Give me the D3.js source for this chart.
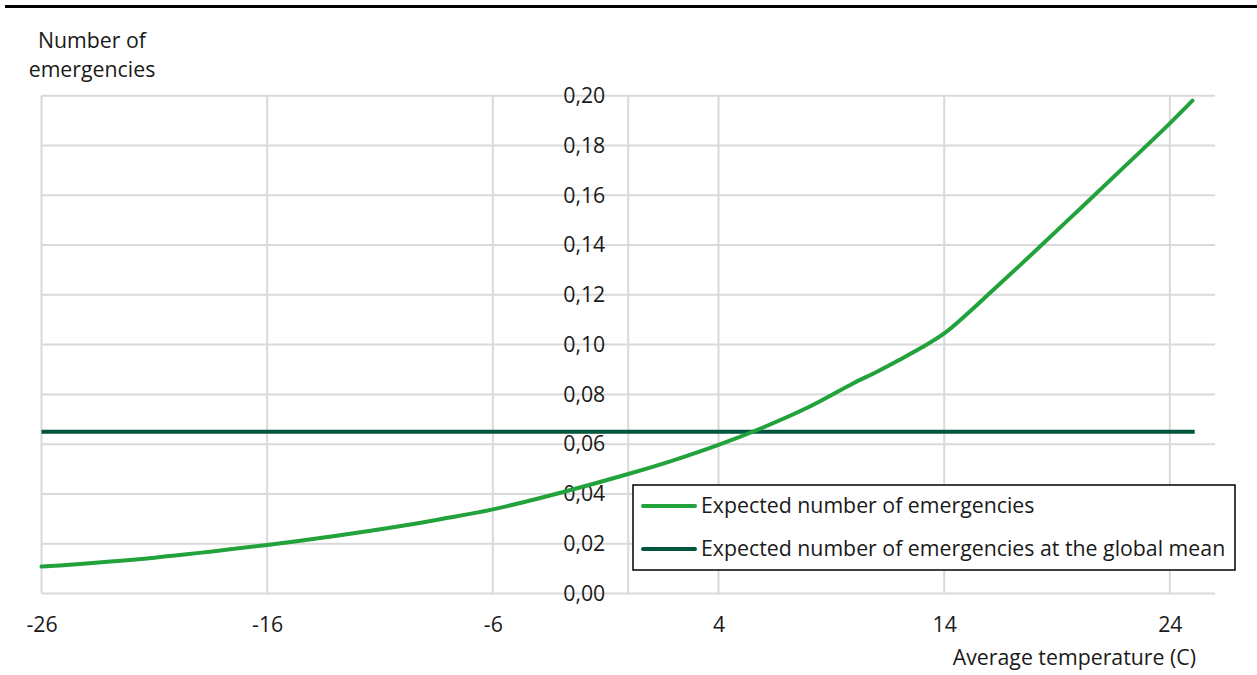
<!DOCTYPE html>
<html>
<head>
<meta charset="utf-8">
<script src="https://cdn.jsdelivr.net/npm/d3@7"></script>
<style>
  html, body { margin: 0; padding: 0; background: #fff; }
  svg text { font-family: "Open Sans", "Noto Sans", sans-serif; fill: #1a1a1a; }
</style>
</head>
<body>
<svg id="chart" width="1257" height="675"></svg>
<script>
// ---- data ----
const temperatures = [-26, -21, -16, -13, -10, -8, -6, -3, 0, 2, 4, 6, 8, 10, 11, 12, 13, 14, 15, 16, 18, 20, 22, 24, 25];
const expectedEmergencies = [0.0108, 0.0144, 0.0195, 0.0231, 0.0272, 0.0304, 0.0338, 0.0405, 0.0480, 0.0535, 0.0597, 0.0668, 0.0749, 0.0846, 0.0890, 0.0938, 0.0988, 0.1045, 0.1122, 0.1205, 0.1373, 0.1544, 0.1716, 0.1889, 0.1980];
const globalMeanValue = 0.065;
const globalMeanRange = [-26, 25.1];
const xTicks = [-26, -16, -6, 4, 14, 24];
const yTicks = [0, 0.02, 0.04, 0.06, 0.08, 0.10, 0.12, 0.14, 0.16, 0.18, 0.20];
const seriesNames = ["Expected number of emergencies", "Expected number of emergencies at the global mean"];
const seriesColors = ["#22a23b", "#00553f"];
const yTitle = ["Number of", "emergencies"];
const xTitle = "Average temperature (C)";

// ---- layout ----
const FS = 21.3;
const svg = d3.select("#chart");
const x = d3.scaleLinear().domain([-26, 26]).range([41.5, 1215]);
const y = d3.scaleLinear().domain([0, 0.2]).range([593.5, 95.7]);
const fmt = v => d3.format(".2f")(v).replace(".", ",");

// top rule
svg.append("rect").attr("x", 5).attr("y", 5).attr("width", 1252).attr("height", 3).attr("fill", "#000");

// gridlines
const grid = svg.append("g").attr("stroke", "#d9d9d9").attr("stroke-width", 2);
grid.selectAll("line.h").data(yTicks).join("line")
  .attr("x1", x(-26)).attr("x2", x(26))
  .attr("y1", d => y(d)).attr("y2", d => y(d));
grid.selectAll("line.v").data(xTicks.concat([0])).join("line")
  .attr("x1", d => x(d)).attr("x2", d => x(d))
  .attr("y1", y(0.2)).attr("y2", y(0));

// y axis (at x = 0)
const yAxis = d3.axisLeft(y).tickValues(yTicks).tickFormat(fmt).tickSize(0).tickPadding(23);
const yg = svg.append("g").attr("transform", `translate(${x(0)},0)`).call(yAxis);
yg.select(".domain").remove();
yg.selectAll("text").attr("font-size", FS).style("font-family", '"Open Sans", sans-serif').attr("fill", "#1a1a1a");

// x axis
const xAxis = d3.axisBottom(x).tickValues(xTicks).tickFormat(d => d).tickSize(0).tickPadding(23);
const xg = svg.append("g").attr("transform", `translate(0,${y(0)})`).call(xAxis);
xg.select(".domain").remove();
xg.selectAll("text").attr("font-size", FS).style("font-family", '"Open Sans", sans-serif').attr("fill", "#1a1a1a");

// lines
const flat = d3.line().x(d => x(d[0])).y(d => y(d[1]));
const line = d3.line().x(d => x(d[0])).y(d => y(d[1])).curve(d3.curveCatmullRom.alpha(0.5));
svg.append("path")
  .datum(globalMeanRange.map(t => [t, globalMeanValue]))
  .attr("d", flat).attr("fill", "none").attr("stroke", seriesColors[1]).attr("stroke-width", 4);
svg.append("path")
  .datum(temperatures.map((t, i) => [t, expectedEmergencies[i]]))
  .attr("d", line).attr("fill", "none").attr("stroke", seriesColors[0]).attr("stroke-width", 4)
  .attr("stroke-linecap", "round").attr("stroke-linejoin", "round");

// titles
svg.append("text").attr("x", 92).attr("y", 48).attr("text-anchor", "middle").attr("font-size", FS).text(yTitle[0]);
svg.append("text").attr("x", 92).attr("y", 77).attr("text-anchor", "middle").attr("font-size", FS).text(yTitle[1]);
svg.append("text").attr("x", 1196).attr("y", 665).attr("text-anchor", "end").attr("font-size", FS).text(xTitle);

// legend
const lg = svg.append("g");
lg.append("rect").attr("x", 633).attr("y", 485).attr("width", 602).attr("height", 85)
  .attr("fill", "#fff").attr("stroke", "#000").attr("stroke-width", 1.5);
seriesNames.forEach((name, i) => {
  const cy = 506 + i * 43;
  lg.append("line").attr("x1", 643).attr("x2", 695).attr("y1", cy).attr("y2", cy)
    .attr("stroke", seriesColors[i]).attr("stroke-width", 4).attr("stroke-linecap", "round");
  lg.append("text").attr("x", 701).attr("y", cy).attr("dy", "0.35em").attr("font-size", FS).text(name);
});
</script>
</body>
</html>
